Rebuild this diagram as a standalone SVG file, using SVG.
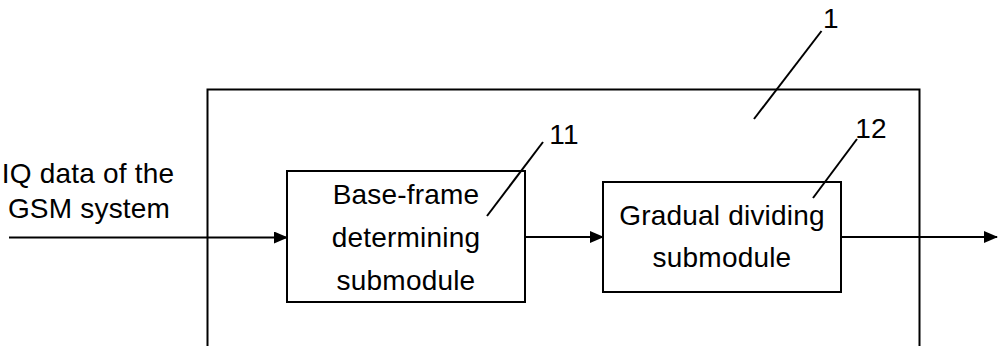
<svg xmlns="http://www.w3.org/2000/svg" width="998" height="346" viewBox="0 0 998 346">
<style>
text{font-family:"Liberation Sans",Arial,sans-serif;font-size:28px;fill:#000;letter-spacing:0.2px}
.c{text-anchor:middle}
.box{fill:none;stroke:#000;stroke-width:2}
.ln{stroke:#000;stroke-width:2;fill:none}
</style>
<defs>
<marker id="ah" markerWidth="14" markerHeight="12" refX="13" refY="6" orient="auto" markerUnits="userSpaceOnUse">
<path d="M0,0 L14,6 L0,12 Z" fill="#000"/>
</marker>
</defs>
<rect width="998" height="346" fill="#fff"/>
<g id="module1">
<path class="ln" d="M207.5,346 V89.5 H919.5 V346" stroke-width="2.5"/>
<line class="ln" x1="821.5" y1="31" x2="754" y2="119"/>
<text x="831" y="28" class="c">1</text>
</g>
<g id="input-label">
<text x="88" y="183" class="c">IQ data of the</text>
<text x="89" y="218" class="c">GSM system</text>
</g>
<g id="sub11">
<rect class="box" x="287" y="171" width="238" height="131"/>
<text x="406" y="204" class="c">Base-frame</text>
<text x="406" y="247" class="c">determining</text>
<text x="406" y="290" class="c">submodule</text>
<line class="ln" x1="543" y1="142" x2="487" y2="216"/>
<text x="564" y="144" class="c">11</text>
</g>
<g id="sub12">
<rect class="box" x="603" y="182" width="238" height="110"/>
<text x="722" y="225" class="c">Gradual dividing</text>
<text x="722" y="267" class="c">submodule</text>
<line class="ln" x1="857" y1="139" x2="813" y2="198"/>
<text x="871" y="138" class="c">12</text>
</g>
<g id="connectors">
<line class="ln" x1="9" y1="237.5" x2="287" y2="237.5" marker-end="url(#ah)"/>
<line class="ln" x1="525" y1="237" x2="603" y2="237" marker-end="url(#ah)"/>
<line class="ln" x1="841" y1="237" x2="997" y2="237" marker-end="url(#ah)"/>
</g>
</svg>
